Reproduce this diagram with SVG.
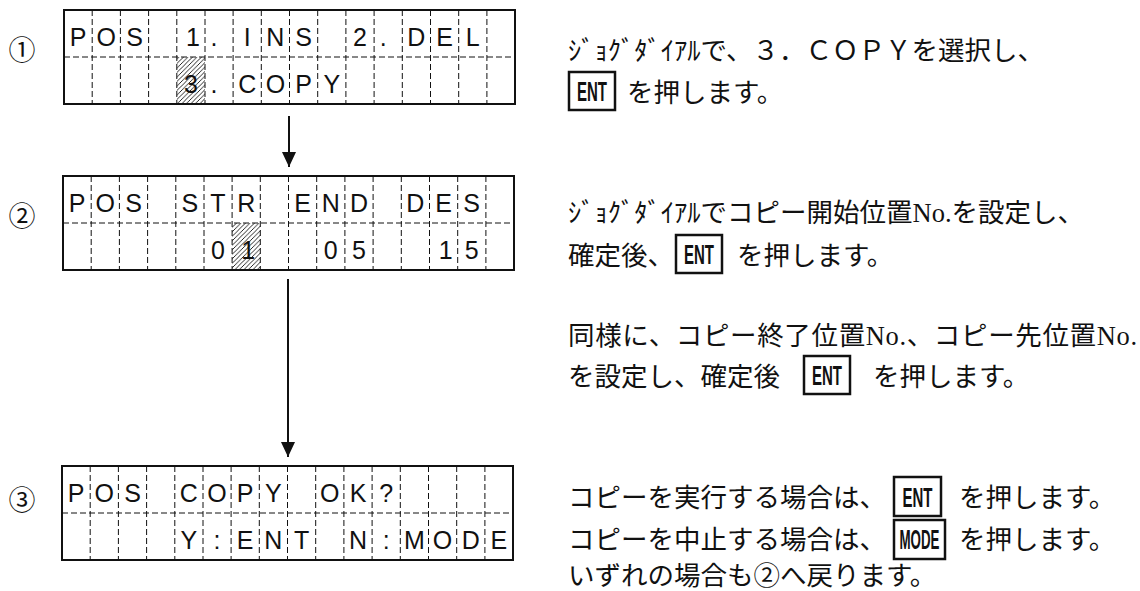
<svg xmlns="http://www.w3.org/2000/svg" width="1140" height="591" viewBox="0 0 1140 591">
<defs>
<style>
.frame{fill:#fff;stroke:#111;stroke-width:2}
.dash{fill:none;stroke:#111;stroke-width:1;stroke-dasharray:6 3}
.lcd{font-family:"Liberation Sans",Arial,sans-serif;font-size:25px;fill:#111;text-anchor:middle}
.num{font-family:"Noto Sans CJK JP",sans-serif;font-size:27px;fill:#111;text-anchor:middle}
.jp{font-family:"Liberation Serif","Noto Sans CJK JP",serif;font-size:26.5px;fill:#111}
.key{fill:#fff;stroke:#111;stroke-width:2.5}
.keyt{font-family:"Liberation Sans Narrow","Liberation Sans",sans-serif;font-weight:bold;font-size:27px;fill:#111;text-anchor:middle}
.conn{stroke:#111;stroke-width:2;fill:none}
</style>
<pattern id="hatch" patternUnits="userSpaceOnUse" width="4.5" height="4.5">
<path d="M0,4.5 L4.5,0 M-1,1 L1,-1 M3.5,5.5 L5.5,3.5" stroke="#111" stroke-width="0.9"/>
</pattern>
<marker id="ah" markerWidth="15" markerHeight="14" refX="15" refY="7" orient="auto" markerUnits="userSpaceOnUse" viewBox="0 0 15 14">
<path d="M0,0 L15,7 L0,14 Z" fill="#111"/>
</marker>
</defs>
<rect width="1140" height="591" fill="#fff"/>

<g id="lcd1" transform="translate(64,10)">
<rect class="frame" x="0" y="0" width="451" height="94"/>
<rect x="112.8" y="47" width="28.2" height="47" fill="url(#hatch)"/>
<path class="dash" d="M28.2,0V94M56.4,0V94M84.6,0V94M112.8,0V94M141,0V94M169.1,0V94M197.3,0V94M225.5,0V94M253.7,0V94M281.9,0V94M310.1,0V94M338.3,0V94M366.5,0V94M394.7,0V94M422.9,0V94M0,47H451"/>
<text class="lcd" x="14.1 42.3 70.5 128.9 150 183.2 211.4 239.6 296 319.2 352.4 380.6 408.7" y="36">POS1.INS2.DEL</text>
<text class="lcd" x="126.9 150 183.2 211.4 239.6 267.8" y="83">3.COPY</text>
</g>

<g id="lcd2" transform="translate(63,176)">
<rect class="frame" x="0" y="0" width="451" height="94"/>
<rect x="169.1" y="47" width="28.2" height="47" fill="url(#hatch)"/>
<path class="dash" d="M28.2,0V94M56.4,0V94M84.6,0V94M112.8,0V94M141,0V94M169.1,0V94M197.3,0V94M225.5,0V94M253.7,0V94M281.9,0V94M310.1,0V94M338.3,0V94M366.5,0V94M394.7,0V94M422.9,0V94M0,47H451"/>
<text class="lcd" x="14.1 42.3 70.5 126.9 155 183.2 239.6 267.8 296 352.4 380.6 408.7" y="36">POSSTRENDDES</text>
<text class="lcd" x="155 185.2 267.8 296 382.6 408.7" y="83">010515</text>
</g>

<g id="lcd3" transform="translate(62,466)">
<rect class="frame" x="0" y="0" width="451" height="94"/>
<path class="dash" d="M28.2,0V94M56.4,0V94M84.6,0V94M112.8,0V94M141,0V94M169.1,0V94M197.3,0V94M225.5,0V94M253.7,0V94M281.9,0V94M310.1,0V94M338.3,0V94M366.5,0V94M394.7,0V94M422.9,0V94M0,47H451"/>
<text class="lcd" x="14.1 42.3 70.5 126.9 155 183.2 211.4 267.8 296 324.2" y="36">POSCOPYOK?</text>
<text class="lcd" x="126.9 155 183.2 211.4 239.6 296 324.2 352.4 380.6 408.7 436.9" y="83">Y:ENTN:MODE</text>
</g>

<g id="step-labels">
<text class="num" x="22" y="60">①</text>
<text class="num" x="22" y="226">②</text>
<text class="num" x="22" y="510">③</text>
</g>

<g id="connectors">
<line class="conn" x1="289" y1="116" x2="289" y2="167" marker-end="url(#ah)"/>
<line class="conn" x1="288" y1="279" x2="288" y2="457" marker-end="url(#ah)"/>
</g>

<g id="note1">
<text class="jp" x="568" y="60">ｼﾞｮｸﾞﾀﾞｲｱﾙで、３．ＣＯＰＹを選択し、</text>
<rect class="key" x="569" y="72" width="46" height="38"/>
<text class="keyt" x="592" y="101" textLength="30" lengthAdjust="spacingAndGlyphs">ENT</text>
<text class="jp" x="627" y="102">を押します。</text>
</g>

<g id="note2">
<text class="jp" x="568" y="222">ｼﾞｮｸﾞﾀﾞｲｱﾙでコピー開始位置No.を設定し、</text>
<text class="jp" x="568" y="265">確定後、</text>
<rect class="key" x="676" y="235" width="46" height="38"/>
<text class="keyt" x="699" y="264" textLength="30" lengthAdjust="spacingAndGlyphs">ENT</text>
<text class="jp" x="737" y="265">を押します。</text>
</g>

<g id="note3">
<text class="jp" x="568" y="345" textLength="569" lengthAdjust="spacing">同様に、コピー終了位置No.、コピー先位置No.</text>
<text class="jp" x="568" y="386">を設定し、確定後</text>
<rect class="key" x="804" y="356" width="46" height="38"/>
<text class="keyt" x="827" y="385" textLength="30" lengthAdjust="spacingAndGlyphs">ENT</text>
<text class="jp" x="873" y="386">を押します。</text>
</g>

<g id="note4">
<text class="jp" x="568" y="507">コピーを実行する場合は、</text>
<rect class="key" x="894" y="477" width="47" height="39"/>
<text class="keyt" x="917.5" y="507" textLength="30" lengthAdjust="spacingAndGlyphs">ENT</text>
<text class="jp" x="959" y="507">を押します。</text>
<text class="jp" x="568" y="549">コピーを中止する場合は、</text>
<rect class="key" x="894" y="520" width="51" height="39"/>
<text class="keyt" x="919.5" y="549" textLength="40" lengthAdjust="spacingAndGlyphs">MODE</text>
<text class="jp" x="959" y="549">を押します。</text>
<text class="jp" x="568" y="585">いずれの場合も②へ戻ります。</text>
</g>
</svg>
